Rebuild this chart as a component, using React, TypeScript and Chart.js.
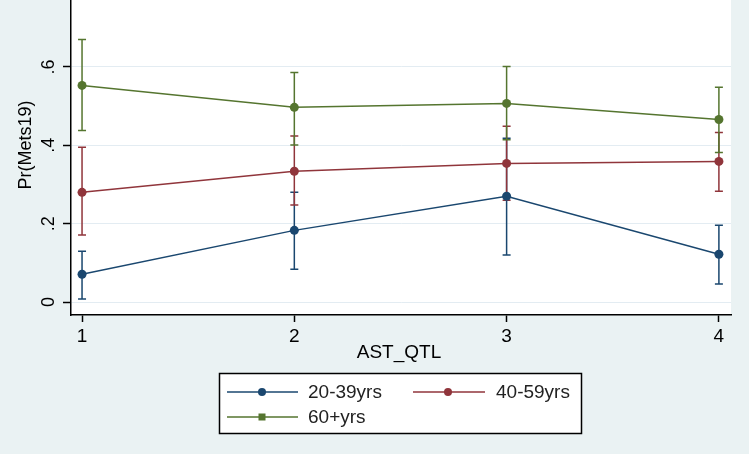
import React, { useEffect, useRef } from "react";
import { Chart, registerables } from "chart.js";

Chart.register(...registerables);

const categories = [1, 2, 3, 4];
const seriesNames = ["20-39yrs", "40-59yrs", "60+yrs"];
const mean20 = [0.071, 0.183, 0.270, 0.122];
const lo20 = [0.008, 0.084, 0.120, 0.046];
const hi20 = [0.130, 0.280, 0.418, 0.196];
const mean40 = [0.280, 0.334, 0.354, 0.359];
const lo40 = [0.171, 0.248, 0.260, 0.283];
const hi40 = [0.395, 0.424, 0.449, 0.433];
const mean60 = [0.553, 0.497, 0.507, 0.466];
const lo60 = [0.438, 0.401, 0.414, 0.382];
const hi60 = [0.670, 0.586, 0.601, 0.548];
const yTickValues = [0, 0.2, 0.4, 0.6];
const yTickLabels = ["0", ".2", ".4", ".6"];
const xTickLabels = ["1", "2", "3", "4"];
const xTitle = "AST_QTL";
const yTitle = "Pr(Mets19)";

const colors = ["#1a476f", "#90353b", "#55752f"];
const means = [mean20, mean40, mean60];
const los = [lo20, lo40, lo60];
const his = [hi20, hi40, hi60];

const FONT = "'Liberation Sans', Arial, sans-serif";

export default function App() {
  const ref = useRef<HTMLCanvasElement | null>(null);

  useEffect(() => {
    document.body.style.margin = "0";
    const canvas = ref.current!;

    const bgPlugin = {
      id: "bg",
      beforeDraw(chart: any) {
        const { ctx, chartArea: a } = chart;
        ctx.save();
        ctx.fillStyle = "#eaf2f3";
        ctx.fillRect(0, 0, chart.width, chart.height);
        ctx.fillStyle = "#ffffff";
        ctx.fillRect(a.left, a.top, a.right - a.left, a.bottom - a.top);
        ctx.restore();
      },
    };

    const errPlugin = {
      id: "errbars",
      beforeDatasetsDraw(chart: any) {
        const { ctx } = chart;
        const xs = chart.scales.x;
        const ys = chart.scales.y;
        ctx.save();
        ctx.lineWidth = 1.5;
        for (let s = 0; s < means.length; s++) {
          ctx.strokeStyle = colors[s];
          for (let i = 0; i < categories.length; i++) {
            const x = xs.getPixelForValue(categories[i]);
            const y1 = ys.getPixelForValue(los[s][i]);
            const y2 = ys.getPixelForValue(his[s][i]);
            ctx.beginPath();
            ctx.moveTo(x, y1);
            ctx.lineTo(x, y2);
            ctx.moveTo(x - 4, y1);
            ctx.lineTo(x + 4, y1);
            ctx.moveTo(x - 4, y2);
            ctx.lineTo(x + 4, y2);
            ctx.stroke();
          }
        }
        ctx.restore();
      },
    };

    const textPlugin = {
      id: "texts",
      afterDraw(chart: any) {
        const { ctx } = chart;
        const xs = chart.scales.x;
        const ys = chart.scales.y;
        ctx.save();
        ctx.fillStyle = "#000";
        // y tick labels (rotated)
        ctx.font = `18px ${FONT}`;
        ctx.textAlign = "center";
        ctx.textBaseline = "middle";
        yTickValues.forEach((v, i) => {
          const y = ys.getPixelForValue(v);
          ctx.save();
          ctx.translate(49, y);
          ctx.rotate(-Math.PI / 2);
          ctx.fillText(yTickLabels[i], 0, 0);
          ctx.restore();
        });
        // y title
        ctx.save();
        ctx.translate(26, 145);
        ctx.rotate(-Math.PI / 2);
        ctx.fillText(yTitle, 0, 0);
        ctx.restore();
        // x tick labels
        ctx.font = `19px ${FONT}`;
        categories.forEach((c, i) => {
          ctx.fillText(xTickLabels[i], xs.getPixelForValue(c), 337);
        });
        // x title
        ctx.fillText(xTitle, 399, 353);

        // legend
        ctx.fillStyle = "#ffffff";
        ctx.fillRect(219, 373, 363, 61);
        ctx.strokeStyle = "#000";
        ctx.lineWidth = 1.5;
        ctx.strokeRect(219.5, 373.5, 362, 60);
        const items = [
          { x0: 227, x1: 298, mx: 262, tx: 308, y: 392 },
          { x0: 413, x1: 485, mx: 448, tx: 496, y: 392 },
          { x0: 227, x1: 298, mx: 262, tx: 308, y: 417 },
        ];
        ctx.font = `19px ${FONT}`;
        ctx.textAlign = "left";
        items.forEach((it, s) => {
          ctx.strokeStyle = colors[s];
          ctx.fillStyle = colors[s];
          ctx.lineWidth = 1.5;
          ctx.beginPath();
          ctx.moveTo(it.x0, it.y);
          ctx.lineTo(it.x1, it.y);
          ctx.stroke();
          if (s === 2) {
            ctx.fillRect(it.mx - 3.5, it.y - 3.5, 7, 7);
          } else {
            ctx.beginPath();
            ctx.arc(it.mx, it.y, 4, 0, Math.PI * 2);
            ctx.fill();
          }
          ctx.fillStyle = "#222";
          ctx.fillText(seriesNames[s], it.tx, it.y + 1);
        });
        ctx.restore();
      },
    };

    const chart = new Chart(canvas, {
      type: "line",
      data: {
        datasets: means.map((m, s) => ({
          label: seriesNames[s],
          data: categories.map((c, i) => ({ x: c, y: m[i] })),
          borderColor: colors[s],
          backgroundColor: colors[s],
          pointBackgroundColor: colors[s],
          pointBorderColor: colors[s],
          borderWidth: 1.5,
          pointRadius: 4.5,
          pointBorderWidth: 0,
          tension: 0,
          fill: false,
        })),
      },
      options: {
        responsive: false,
        animation: false,
        devicePixelRatio: 1,
        layout: { autoPadding: false, padding: { left: 0, right: 18, top: 0, bottom: 0 } },
        plugins: { legend: { display: false }, tooltip: { enabled: false } },
        scales: {
          x: {
            type: "linear",
            min: 0.948,
            max: 4.057,
            afterBuildTicks: (s: any) => {
              s.ticks = categories.map((v) => ({ value: v }));
            },
            afterFit: (s: any) => {
              s.height = 139;
            },
            ticks: { display: false },
            grid: {
              display: true,
              drawOnChartArea: false,
              drawTicks: true,
              tickLength: 7,
              tickColor: "#000",
              tickWidth: 1.5,
            },
            border: { display: true, color: "#000", width: 1.5 },
          },
          y: {
            type: "linear",
            min: -0.033,
            max: 0.771,
            afterBuildTicks: (s: any) => {
              s.ticks = yTickValues.map((v) => ({ value: v }));
            },
            afterFit: (s: any) => {
              s.width = 71;
            },
            ticks: { display: false },
            grid: {
              display: true,
              drawOnChartArea: true,
              drawTicks: true,
              tickLength: 8,
              color: "#e3ecf2",
              lineWidth: 1,
              tickColor: "#000",
              tickWidth: 1.5,
            },
            border: { display: true, color: "#000", width: 1.5 },
          },
        },
      },
      plugins: [bgPlugin, errPlugin, textPlugin],
    });
    return () => chart.destroy();
  }, []);

  return (
    <div style={{ width: 749, height: 454 }}>
      <canvas ref={ref} width={749} height={454} style={{ display: "block" }} />
    </div>
  );
}
